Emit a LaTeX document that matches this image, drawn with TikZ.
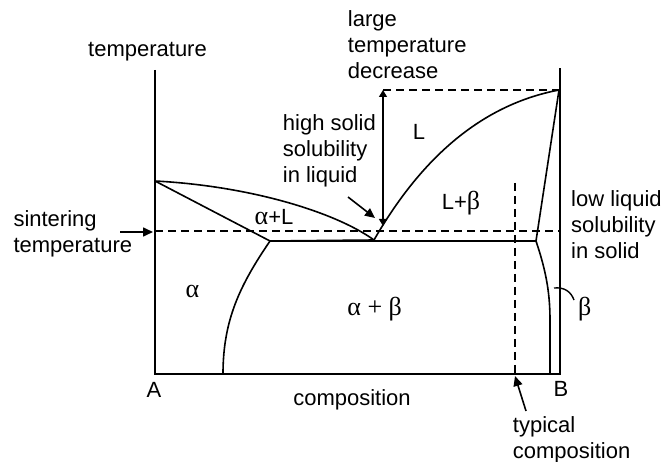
\documentclass[tikz,border=0pt]{standalone}
\usepackage{fontspec}
\setmainfont{Liberation Sans}
\newfontfamily\grk{Liberation Serif}
\newcommand\gkl[1]{{\grk\fontsize{26}{26}\selectfont #1}}
\usetikzlibrary{arrows.meta}
\begin{document}
\begin{tikzpicture}[x=1pt,y=-1pt,
  axis/.style={line width=1.8pt},
  phase/.style={line width=1.6pt},
  dashline/.style={line width=1.5pt, dash pattern=on 8pt off 5pt},
  pointer/.style={line width=1.6pt,-{Triangle[length=10pt,width=9pt]}},
  dblarrow/.style={line width=1.4pt,{Triangle[length=7pt,width=8pt]}-{Triangle[length=7pt,width=8pt]}},
  lbl/.style={inner sep=0pt, font=\fontsize{22}{26}\selectfont},
  mlbl/.style={lbl, align=left, anchor=north west},
  ]
\useasboundingbox (0,0) rectangle (662,462);
% key points
\coordinate (Atop) at (155,70);
\coordinate (A0) at (155,374);
\coordinate (Btop) at (560,68);
\coordinate (B0) at (560,374);
\coordinate (TmA) at (155,181);
\coordinate (TmB) at (559,90);
\coordinate (E) at (374,240);
\coordinate (Ea) at (270,241);
\coordinate (Eb) at (536,241);
\coordinate (SA) at (223,374);
\coordinate (SB) at (550,374);
\coordinate (sL) at (155,231);
\coordinate (sR) at (560,231);
\coordinate (dT) at (383,90);
\coordinate (dB) at (383,226);
\coordinate (tcTop) at (515,183);
\coordinate (tcBot) at (515,374);
\coordinate (sinS) at (120,232);
\coordinate (sinE) at (153,232);
\coordinate (hsS) at (348,197);
\coordinate (hsE) at (375,218);
\coordinate (tyS) at (526,411);
\coordinate (tyE) at (515,376);
\coordinate (bl1) at (554,288);
\coordinate (bl2) at (574,300);
% axes
\draw[axis] (Atop) -- (A0) -- (B0) -- (Btop);
% dashed lines
\draw[dashline] (sL) -- (sR);
\draw[dashline] (dT) -- (TmB);
\draw[dashline] (tcTop) -- (tcBot);
% phase boundaries
\draw[phase] (TmA) .. controls (250,186) and (335,212) .. (E);
\draw[phase] (TmA) -- (Ea);
\draw[phase] (Ea) .. controls (240,285) and (223,320) .. (SA);
\draw[phase] (E) .. controls (420,160) and (480,105) .. (TmB);
\draw[phase] (TmB) -- (Eb);
\draw[phase] (Eb) .. controls (545,268) and (550,290) .. (550,320) -- (SB);
\draw[phase] (Ea) -- (Eb);
\draw[phase] (E) -- (Ea);
\draw[line width=1.4pt] (bl1) .. controls (565,287) and (571,292) .. (bl2);
% arrows
\draw[dblarrow] (dB) -- (dT);
\draw[pointer] (sinS) -- (sinE);
\draw[pointer] (hsS) -- (hsE);
\draw[pointer] (tyS) -- (tyE);
% labels
\node[lbl, anchor=base] (ttemp) at (147.5,57) {temperature};
\node[mlbl] (tlarge) at (347.7,10.5) {large\\temperature\\decrease};
\node[mlbl] (thigh) at (282.7,114) {high solid\\solubility\\in liquid};
\node[mlbl] (tsint) at (13.3,210.5) {sintering\\temperature};
\node[mlbl] (tlow) at (571,190.5) {low liquid\\solubility\\in solid};
\node[mlbl] (ttyp) at (512.7,416.5) {typical\\composition};
\node[lbl, anchor=base] (tL) at (419,140) {L};
\node[lbl, anchor=base] (tLb) at (461,210) {L+\gkl{β}};
\node[lbl, anchor=base] (taL) at (274,225) {\gkl{α}+L};
\node[lbl, anchor=base] (ta) at (192.5,298) {\gkl{α}};
\node[lbl, anchor=base] (tab) at (374.7,316) {\gkl{α + β}};
\node[lbl, anchor=base] (tb) at (584.7,316) {\gkl{β}};
\node[lbl, anchor=base] (tA) at (154,397.7) {A};
\node[lbl, anchor=base] (tB) at (561,396.7) {B};
\node[lbl, anchor=base] (tcomp) at (352,406) {composition};
\end{tikzpicture}
\end{document}
